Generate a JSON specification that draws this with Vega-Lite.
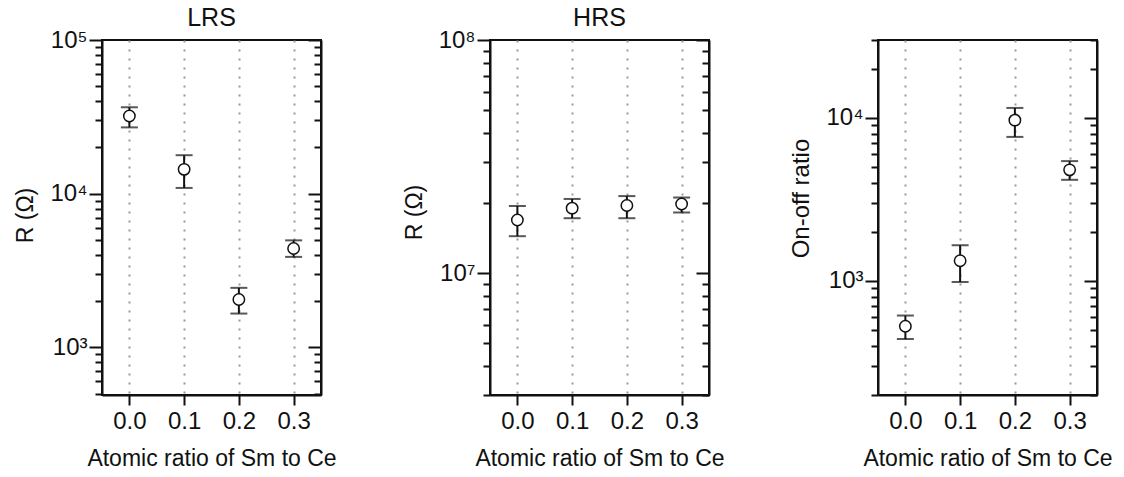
{
  "$schema": "https://vega.github.io/schema/vega-lite/v6.json",
  "background": "white",
  "padding": {"left": 13, "top": 5, "right": 5, "bottom": 5},
  "spacing": 169,
  "bounds": "flush",
  "datasets": {
    "lrs": [
      {"x": 0.0, "val": 32000, "lo": 27000, "hi": 36500},
      {"x": 0.1, "val": 14400, "lo": 10900, "hi": 17800},
      {"x": 0.2, "val": 2050, "lo": 1660, "hi": 2440},
      {"x": 0.3, "val": 4400, "lo": 3880, "hi": 4970}
    ],
    "hrs": [
      {"x": 0.0, "val": 16900000, "lo": 14400000, "hi": 19400000},
      {"x": 0.1, "val": 19000000, "lo": 17200000, "hi": 20800000},
      {"x": 0.2, "val": 19500000, "lo": 17200000, "hi": 21400000},
      {"x": 0.3, "val": 19800000, "lo": 18200000, "hi": 21100000}
    ],
    "ratio": [
      {"x": 0.0, "val": 528, "lo": 441, "hi": 614},
      {"x": 0.1, "val": 1330, "lo": 986, "hi": 1656},
      {"x": 0.2, "val": 9680, "lo": 7640, "hi": 11500},
      {"x": 0.3, "val": 4800, "lo": 4170, "hi": 5430}
    ]
  },
  "hconcat": [
    {
      "width": 219, "height": 355,
      "title": "LRS",
      "data": {"name": "lrs"},
      "encoding": {
        "x": {"field": "x", "type": "quantitative",
          "scale": {"domain": [-0.05, 0.35], "nice": false, "zero": false},
          "axis": {"values": [0, 0.1, 0.2, 0.3], "format": ".1f", "title": "Atomic ratio of Sm to Ce", "grid": true, "gridDash": [2, 7], "gridColor": "#999", "gridWidth": 2, "tickSize": 10, "labelPadding": 4, "titlePadding": 14, "labelFlush": false}}
      },
      "layer": [
        {"mark": {"type": "rule", "color": "#111", "strokeWidth": 2},
         "encoding": {
           "y": {"field": "lo", "type": "quantitative", "scale": {"type": "log", "domain": [490, 100000], "nice": false},
             "axis": {"orient": "left", "title": "R (Ω)", "grid": false, "labelFlush": false, "labelOverlap": false,
               "values": [500, 600, 700, 800, 900, 1000, 2000, 3000, 4000, 5000, 6000, 7000, 8000, 9000, 10000, 20000, 30000, 40000, 50000, 60000, 70000, 80000, 90000, 100000],
               "labelExpr": "datum.value == 100000 ? '10⁵' : datum.value == 10000 ? '10⁴' : datum.value == 1000 ? '10³' : ''",
               "tickSize": {"condition": {"test": "abs(log(datum.value)/LN10 - round(log(datum.value)/LN10)) < 0.001", "value": 13}, "value": 7},
               "labelPadding": 2, "titlePadding": 12, "titleY": 175}},
           "y2": {"field": "hi"}
         }},
        {"mark": {"type": "tick", "orient": "horizontal", "color": "#111", "thickness": 2, "size": 17},
         "encoding": {"y": {"field": "hi", "type": "quantitative", "scale": {"type": "log", "domain": [490, 100000], "nice": false}, "axis": null}}},
        {"mark": {"type": "tick", "orient": "horizontal", "color": "#111", "thickness": 2, "size": 17},
         "encoding": {"y": {"field": "lo", "type": "quantitative", "scale": {"type": "log", "domain": [490, 100000], "nice": false}, "axis": null}}},
        {"mark": {"type": "point", "shape": "circle", "filled": true, "fill": "white", "stroke": "#111", "strokeWidth": 1.5, "size": 130, "opacity": 1},
         "encoding": {"y": {"field": "val", "type": "quantitative", "scale": {"type": "log", "domain": [490, 100000], "nice": false},
           "axis": {"orient": "right", "title": null, "labels": false, "grid": false,
             "values": [500, 600, 700, 800, 900, 1000, 2000, 3000, 4000, 5000, 6000, 7000, 8000, 9000, 10000, 20000, 30000, 40000, 50000, 60000, 70000, 80000, 90000, 100000],
             "tickSize": {"condition": {"test": "abs(log(datum.value)/LN10 - round(log(datum.value)/LN10)) < 0.001", "value": -13}, "value": -7}}}}}
      ],
      "resolve": {"axis": {"y": "independent"}}
    },
    {
      "width": 219, "height": 355,
      "title": "HRS",
      "data": {"name": "hrs"},
      "encoding": {
        "x": {"field": "x", "type": "quantitative",
          "scale": {"domain": [-0.05, 0.35], "nice": false, "zero": false},
          "axis": {"values": [0, 0.1, 0.2, 0.3], "format": ".1f", "title": "Atomic ratio of Sm to Ce", "grid": true, "gridDash": [2, 7], "gridColor": "#999", "gridWidth": 2, "tickSize": 10, "labelPadding": 4, "titlePadding": 14, "labelFlush": false}}
      },
      "layer": [
        {"mark": {"type": "rule", "color": "#111", "strokeWidth": 2},
         "encoding": {
           "y": {"field": "lo", "type": "quantitative", "scale": {"type": "log", "domain": [3000000, 100000000], "nice": false},
             "axis": {"orient": "left", "title": "R (Ω)", "grid": false, "labelFlush": false, "labelOverlap": false,
               "values": [3000000, 4000000, 5000000, 6000000, 7000000, 8000000, 9000000, 10000000, 20000000, 30000000, 40000000, 50000000, 60000000, 70000000, 80000000, 90000000, 100000000],
               "labelExpr": "datum.value == 100000000 ? '10⁸' : datum.value == 10000000 ? '10⁷' : ''",
               "tickSize": {"condition": {"test": "abs(log(datum.value)/LN10 - round(log(datum.value)/LN10)) < 0.001", "value": 13}, "value": 7},
               "labelPadding": 2, "titlePadding": 12, "titleY": 172}},
           "y2": {"field": "hi"}
         }},
        {"mark": {"type": "tick", "orient": "horizontal", "color": "#111", "thickness": 2, "size": 17},
         "encoding": {"y": {"field": "hi", "type": "quantitative", "scale": {"type": "log", "domain": [3000000, 100000000], "nice": false}, "axis": null}}},
        {"mark": {"type": "tick", "orient": "horizontal", "color": "#111", "thickness": 2, "size": 17},
         "encoding": {"y": {"field": "lo", "type": "quantitative", "scale": {"type": "log", "domain": [3000000, 100000000], "nice": false}, "axis": null}}},
        {"mark": {"type": "point", "shape": "circle", "filled": true, "fill": "white", "stroke": "#111", "strokeWidth": 1.5, "size": 130, "opacity": 1},
         "encoding": {"y": {"field": "val", "type": "quantitative", "scale": {"type": "log", "domain": [3000000, 100000000], "nice": false},
           "axis": {"orient": "right", "title": null, "labels": false, "grid": false,
             "values": [3000000, 4000000, 5000000, 6000000, 7000000, 8000000, 9000000, 10000000, 20000000, 30000000, 40000000, 50000000, 60000000, 70000000, 80000000, 90000000, 100000000],
             "tickSize": {"condition": {"test": "abs(log(datum.value)/LN10 - round(log(datum.value)/LN10)) < 0.001", "value": -13}, "value": -7}}}}}
      ],
      "resolve": {"axis": {"y": "independent"}}
    },
    {
      "width": 219, "height": 355,
      "data": {"name": "ratio"},
      "encoding": {
        "x": {"field": "x", "type": "quantitative",
          "scale": {"domain": [-0.05, 0.35], "nice": false, "zero": false},
          "axis": {"values": [0, 0.1, 0.2, 0.3], "format": ".1f", "title": "Atomic ratio of Sm to Ce", "grid": true, "gridDash": [2, 7], "gridColor": "#999", "gridWidth": 2, "tickSize": 10, "labelPadding": 4, "titlePadding": 14, "labelFlush": false}}
      },
      "layer": [
        {"mark": {"type": "rule", "color": "#111", "strokeWidth": 2},
         "encoding": {
           "y": {"field": "lo", "type": "quantitative", "scale": {"type": "log", "domain": [200, 30000], "nice": false},
             "axis": {"orient": "left", "title": "On-off ratio", "grid": false, "labelFlush": false, "labelOverlap": false,
               "values": [200, 300, 400, 500, 600, 700, 800, 900, 1000, 2000, 3000, 4000, 5000, 6000, 7000, 8000, 9000, 10000, 20000, 30000],
               "labelExpr": "datum.value == 10000 ? '10⁴' : datum.value == 1000 ? '10³' : ''",
               "tickSize": {"condition": {"test": "abs(log(datum.value)/LN10 - round(log(datum.value)/LN10)) < 0.001", "value": 13}, "value": 7},
               "labelPadding": 2, "titlePadding": 12, "titleFontSize": 24, "titleY": 158}},
           "y2": {"field": "hi"}
         }},
        {"mark": {"type": "tick", "orient": "horizontal", "color": "#111", "thickness": 2, "size": 17},
         "encoding": {"y": {"field": "hi", "type": "quantitative", "scale": {"type": "log", "domain": [200, 30000], "nice": false}, "axis": null}}},
        {"mark": {"type": "tick", "orient": "horizontal", "color": "#111", "thickness": 2, "size": 17},
         "encoding": {"y": {"field": "lo", "type": "quantitative", "scale": {"type": "log", "domain": [200, 30000], "nice": false}, "axis": null}}},
        {"mark": {"type": "point", "shape": "circle", "filled": true, "fill": "white", "stroke": "#111", "strokeWidth": 1.5, "size": 130, "opacity": 1},
         "encoding": {"y": {"field": "val", "type": "quantitative", "scale": {"type": "log", "domain": [200, 30000], "nice": false},
           "axis": {"orient": "right", "title": null, "labels": false, "grid": false,
             "values": [200, 300, 400, 500, 600, 700, 800, 900, 1000, 2000, 3000, 4000, 5000, 6000, 7000, 8000, 9000, 10000, 20000, 30000],
             "tickSize": {"condition": {"test": "abs(log(datum.value)/LN10 - round(log(datum.value)/LN10)) < 0.001", "value": -13}, "value": -7}}}}}
      ],
      "resolve": {"axis": {"y": "independent"}}
    }
  ],
  "config": {
    "font": "Liberation Sans",
    "view": {"stroke": "#111", "strokeWidth": 2},
    "axis": {"domainColor": "#111", "domainWidth": 2, "tickColor": "#111", "tickWidth": 2, "labelColor": "#111", "titleColor": "#111", "labelFontSize": 24, "titleFontSize": 23, "titleFontWeight": "normal", "labelFont": "Liberation Sans", "titleFont": "Liberation Sans"},
    "title": {"fontSize": 25, "fontWeight": "normal", "color": "#111", "offset": -3, "font": "Liberation Sans"}
  }
}
